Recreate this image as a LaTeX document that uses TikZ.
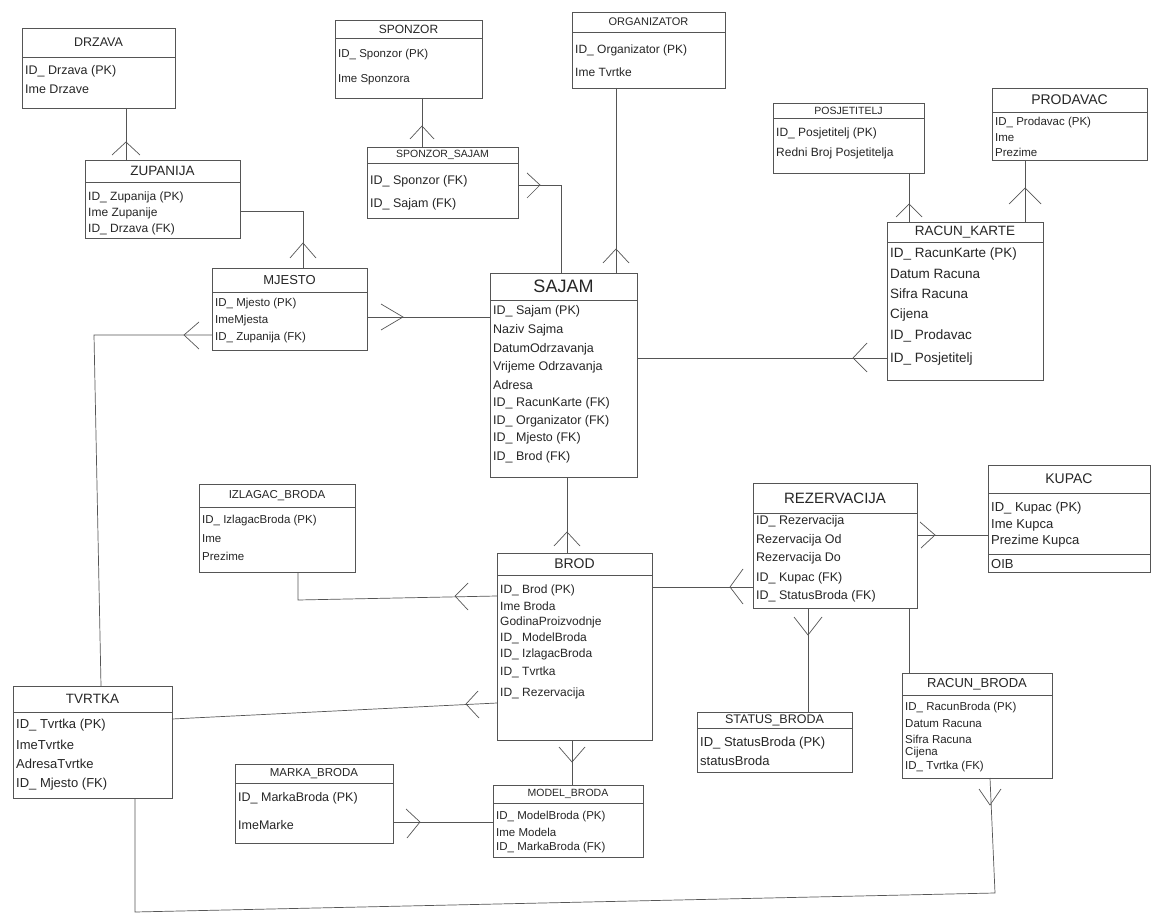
\documentclass[tikz,border=0pt]{standalone}
\usepackage{fontspec}
\setmainfont{Liberation Sans}
\usetikzlibrary{calc}
\definecolor{pen}{HTML}{555555}
\definecolor{ink}{HTML}{262626}
\def\rowsize{10}
\def\ttlsize{12}
\tikzset{
 ln/.style={draw=pen, line width=0.7pt},
 box/.style={draw=pen, line width=0.7pt, inner sep=0pt, outer sep=0pt, rectangle},
 ttl/.style={text=ink, font=\fontsize{\ttlsize}{\ttlsize}\selectfont, inner sep=0pt},
 rowt/.style={text=ink, font=\fontsize{\rowsize}{\rowsize}\selectfont, inner sep=0pt, anchor=west},
}
% name, x1, y1, x2, y2, header y, title, title size, row size
\newcommand\ent[9]{%
 \pgfmathsetmacro\ew{#4-#2}\pgfmathsetmacro\eh{#5-#3}%
 \pgfmathsetmacro\ecx{(#2+#4)/2}\pgfmathsetmacro\ecy{(#3+#5)/2}%
 \pgfmathsetmacro\ety{(#3+#6)/2}%
 \def\ttlsize{#8}\def\rowsize{#9}%
 \node[box, minimum width=\ew pt, minimum height=\eh pt] (#1) at (\ecx,\ecy) {};
 \draw[ln] (#1.west |- 0,#6) -- (#1.east |- 0,#6);
 \node[ttl] (#1-t) at (\ecx,\ety) {#7};
}
\newcommand\rw[4]{\node[rowt] (#1) at (#2,#3) {#4};}
\begin{document}
\begin{tikzpicture}[x=1pt,y=-1pt]
\fill[white] (0,0) rectangle (1163,920);
\useasboundingbox (0,0) rectangle (1163,920);

% ---------- entities ----------
\ent{drzava}{22}{28}{175}{108}{57}{DRZAVA}{12.5}{12.5}
\rw{dr1}{25}{71}{ID\_ Drzava (PK)}
\rw{dr2}{25}{89}{Ime Drzave}

\ent{sponzor}{335}{20}{482}{98}{38}{SPONZOR}{12}{11.5}
\rw{sp1}{338}{55}{ID\_ Sponzor (PK)}
\rw{sp2}{338}{80}{Ime Sponzora}

\ent{organizator}{572}{12}{725}{88}{32}{ORGANIZATOR}{11}{12}
\rw{or1}{575}{50}{ID\_ Organizator (PK)}
\rw{or2}{575}{72}{Ime Tvrtke}

\ent{posjetitelj}{773}{103}{924}{173}{118}{POSJETITELJ}{10.5}{12}
\rw{po1}{776}{133}{ID\_ Posjetitelj (PK)}
\rw{po2}{776}{153}{Redni Broj Posjetitelja}

\ent{prodavac}{992}{88}{1147}{160}{112}{PRODAVAC}{14}{11.5}
\rw{pr1}{995}{123}{ID\_ Prodavac (PK)}
\rw{pr2}{995}{138}{Ime}
\rw{pr3}{995}{152}{Prezime}

\ent{zupanija}{85}{160}{240}{238}{182}{ZUPANIJA}{13.5}{12}
\rw{zu1}{88}{197}{ID\_ Zupanija (PK)}
\rw{zu2}{88}{213}{Ime Zupanije}
\rw{zu3}{88}{229}{ID\_ Drzava (FK)}

\ent{sponzorsajam}{367}{147}{518}{218}{163}{SPONZOR\_SAJAM}{10.5}{12.5}
\rw{ss1}{370}{181}{ID\_ Sponzor (FK)}
\rw{ss2}{370}{204}{ID\_ Sajam (FK)}

\ent{racunkarte}{887}{222}{1043}{380}{242}{RACUN\_KARTE}{13.5}{13.5}
\rw{rk1}{890}{254}{ID\_ RacunKarte (PK)}
\rw{rk2}{890}{274}{Datum Racuna}
\rw{rk3}{890}{294}{Sifra Racuna}
\rw{rk4}{890}{315}{Cijena}
\rw{rk5}{890}{336}{ID\_ Prodavac}
\rw{rk6}{890}{359}{ID\_ Posjetitelj}

\ent{mjesto}{212}{268}{367}{350}{292}{MJESTO}{13}{11.5}
\rw{mj1}{215}{304}{ID\_ Mjesto (PK)}
\rw{mj2}{215}{321}{ImeMjesta}
\rw{mj3}{215}{338}{ID\_ Zupanija (FK)}

\ent{sajam}{490}{273}{637}{477}{300}{SAJAM}{18}{12.5}
\rw{sa1}{493}{311}{ID\_ Sajam (PK)}
\rw{sa2}{493}{330}{Naziv Sajma}
\rw{sa3}{493}{349}{DatumOdrzavanja}
\rw{sa4}{493}{367}{Vrijeme Odrzavanja}
\rw{sa5}{493}{385}{Adresa}
\rw{sa6}{493}{403}{ID\_ RacunKarte (FK)}
\rw{sa7}{493}{421}{ID\_ Organizator (FK)}
\rw{sa8}{493}{438}{ID\_ Mjesto (FK)}
\rw{sa9}{493}{457}{ID\_ Brod (FK)}

\ent{izlagac}{199}{484}{355}{572}{507}{IZLAGAC\_BRODA}{11.5}{11.5}
\rw{iz1}{202}{521}{ID\_ IzlagacBroda (PK)}
\rw{iz2}{202}{539}{Ime}
\rw{iz3}{202}{556}{Prezime}

\ent{brod}{497}{553}{652}{740}{575}{BROD}{14}{12}
\rw{br1}{500}{590}{ID\_ Brod (PK)}
\rw{br2}{500}{606}{Ime Broda}
\rw{br3}{500}{622}{GodinaProizvodnje}
\rw{br4}{500}{638}{ID\_ ModelBroda}
\rw{br5}{500}{654}{ID\_ IzlagacBroda}
\rw{br6}{500}{672}{ID\_ Tvrtka}
\rw{br7}{500}{693}{ID\_ Rezervacija}

\ent{rezervacija}{753}{483}{917}{608}{513}{REZERVACIJA}{15}{12.5}
\rw{re1}{756}{521}{ID\_ Rezervacija}
\rw{re2}{756}{540}{Rezervacija Od}
\rw{re3}{756}{558}{Rezervacija Do}
\rw{re4}{756}{578}{ID\_ Kupac (FK)}
\rw{re5}{756}{596}{ID\_ StatusBroda (FK)}

\ent{kupac}{988}{465}{1150}{572}{493}{KUPAC}{14}{13}
\rw{ku1}{991}{508}{ID\_ Kupac (PK)}
\rw{ku2}{991}{525}{Ime Kupca}
\rw{ku3}{991}{541}{Prezime Kupca}
\draw[ln] (kupac.west |- 0,554) -- (kupac.east |- 0,554);
\rw{ku4}{991}{564}{OIB}

\ent{tvrtka}{13}{686}{172}{798}{712}{TVRTKA}{13.5}{13}
\rw{tv1}{16}{725}{ID\_ Tvrtka (PK)}
\rw{tv2}{16}{745}{ImeTvrtke}
\rw{tv3}{16}{764}{AdresaTvrtke}
\rw{tv4}{16}{784}{ID\_ Mjesto (FK)}

\ent{markabroda}{235}{764}{393}{843}{783}{MARKA\_BRODA}{11.5}{12.5}
\rw{ma1}{238}{798}{ID\_ MarkaBroda (PK)}
\rw{ma2}{238}{825}{ImeMarke}

\ent{modelbroda}{493}{785}{643}{857}{803}{MODEL\_BRODA}{10.5}{11.5}
\rw{mo1}{496}{817}{ID\_ ModelBroda (PK)}
\rw{mo2}{496}{832}{Ime Modela}
\rw{mo3}{496}{848}{ID\_ MarkaBroda (FK)}

\ent{statusbroda}{697}{712}{852}{772}{728}{STATUS\_BRODA}{12.5}{13}
\rw{st1}{700}{743}{ID\_ StatusBroda (PK)}
\rw{st2}{700}{761}{statusBroda}

\ent{racunbroda}{902}{673}{1052}{778}{695}{RACUN\_BRODA}{13}{11.5}
\rw{rb1}{905}{708}{ID\_ RacunBroda (PK)}
\rw{rb2}{905}{724}{Datum Racuna}
\rw{rb3}{905}{739}{Sifra Racuna}
\rw{rb4}{905}{753}{Cijena}
\rw{rb5}{905}{767}{ID\_ Tvrtka (FK)}

% ---------- connectors ----------
% DRZAVA - ZUPANIJA
\draw[ln] (drzava.south -| 126,0) -- (zupanija.north -| 126,0);
\draw[ln] (112,155) -- (126,142) -- (140,155);
% ZUPANIJA - MJESTO
\draw[ln] (zupanija.east |- 0,211) -- (303,211) -- (mjesto.north -| 303,0);
\draw[ln] (290,258) -- (303,243) -- (316,258);
% MJESTO - SAJAM
\draw[ln] (mjesto.east |- 0,317) -- (sajam.west |- 0,317);
\draw[ln] (381,304) -- (403,317) -- (381,330);
% MJESTO - TVRTKA
\draw[ln] (mjesto.west |- 0,335) -- (94,335) -- (tvrtka.north -| 101,0);
\draw[ln] (199,322) -- (184,335) -- (199,349);
% SPONZOR - SPONZOR_SAJAM
\draw[ln] (sponzor.south -| 422,0) -- (sponzorsajam.north -| 422,0);
\draw[ln] (410,139) -- (422,126) -- (434,139);
% SPONZOR_SAJAM - SAJAM
\draw[ln] (sponzorsajam.east |- 0,185) -- (561,185) -- (sajam.north -| 561,0);
\draw[ln] (527,173) -- (540,185) -- (527,198);
% ORGANIZATOR - SAJAM
\draw[ln] (organizator.south -| 616,0) -- (sajam.north -| 616,0);
\draw[ln] (603,263) -- (616,249) -- (629,263);
% POSJETITELJ - RACUN_KARTE
\draw[ln] (posjetitelj.south -| 909,0) -- (racunkarte.north -| 909,0);
\draw[ln] (896,217) -- (909,204) -- (922,217);
% PRODAVAC - RACUN_KARTE
\draw[ln] (prodavac.south -| 1025,0) -- (racunkarte.north -| 1025,0);
\draw[ln] (1009,204) -- (1025,188) -- (1041,204);
% RACUN_KARTE - SAJAM
\draw[ln] (racunkarte.west |- 0,358) -- (sajam.east |- 0,358);
\draw[ln] (867,343) -- (853,358) -- (867,372);
% SAJAM - BROD
\draw[ln] (sajam.south -| 567,0) -- (brod.north -| 567,0);
\draw[ln] (554,546) -- (567,532) -- (580,546);
% IZLAGAC_BRODA - BROD
\draw[ln] (izlagac.south -| 298,0) -- (298,600) -- (brod.west |- 0,596);
\draw[ln] (468,583) -- (455,596) -- (468,610);
% TVRTKA - BROD
\draw[ln] (tvrtka.east |- 0,719) -- (brod.west |- 0,703);
\draw[ln] (478,691) -- (466,704) -- (479,718);
% BROD - REZERVACIJA
\draw[ln] (brod.east |- 0,587) -- (rezervacija.west |- 0,587);
\draw[ln] (743,569) -- (730,587) -- (743,604);
% BROD - MODEL_BRODA
\draw[ln] (brod.south -| 572,0) -- (modelbroda.north -| 572,0);
\draw[ln] (559,747) -- (572,762) -- (585,747);
% MARKA_BRODA - MODEL_BRODA
\draw[ln] (markabroda.east |- 0,822) -- (modelbroda.west |- 0,822);
\draw[ln] (406,809) -- (420,822) -- (407,838);
% REZERVACIJA - KUPAC
\draw[ln] (rezervacija.east |- 0,535) -- (kupac.west |- 0,535);
\draw[ln] (920,522) -- (935,535) -- (921,548);
% REZERVACIJA - STATUS_BRODA
\draw[ln] (rezervacija.south -| 808,0) -- (statusbroda.north -| 808,0);
\draw[ln] (794,617) -- (808,635) -- (822,617);
% REZERVACIJA - RACUN_BRODA
\draw[ln] (rezervacija.south -| 909,0) -- (racunbroda.north -| 909,0);
% RACUN_BRODA - TVRTKA
\draw[ln] (racunbroda.south -| 990,0) -- (995,893) -- (135,912) -- (tvrtka.south -| 135,0);
\draw[ln] (979,789) -- (990,805) -- (1001,789);
\end{tikzpicture}
\end{document}
